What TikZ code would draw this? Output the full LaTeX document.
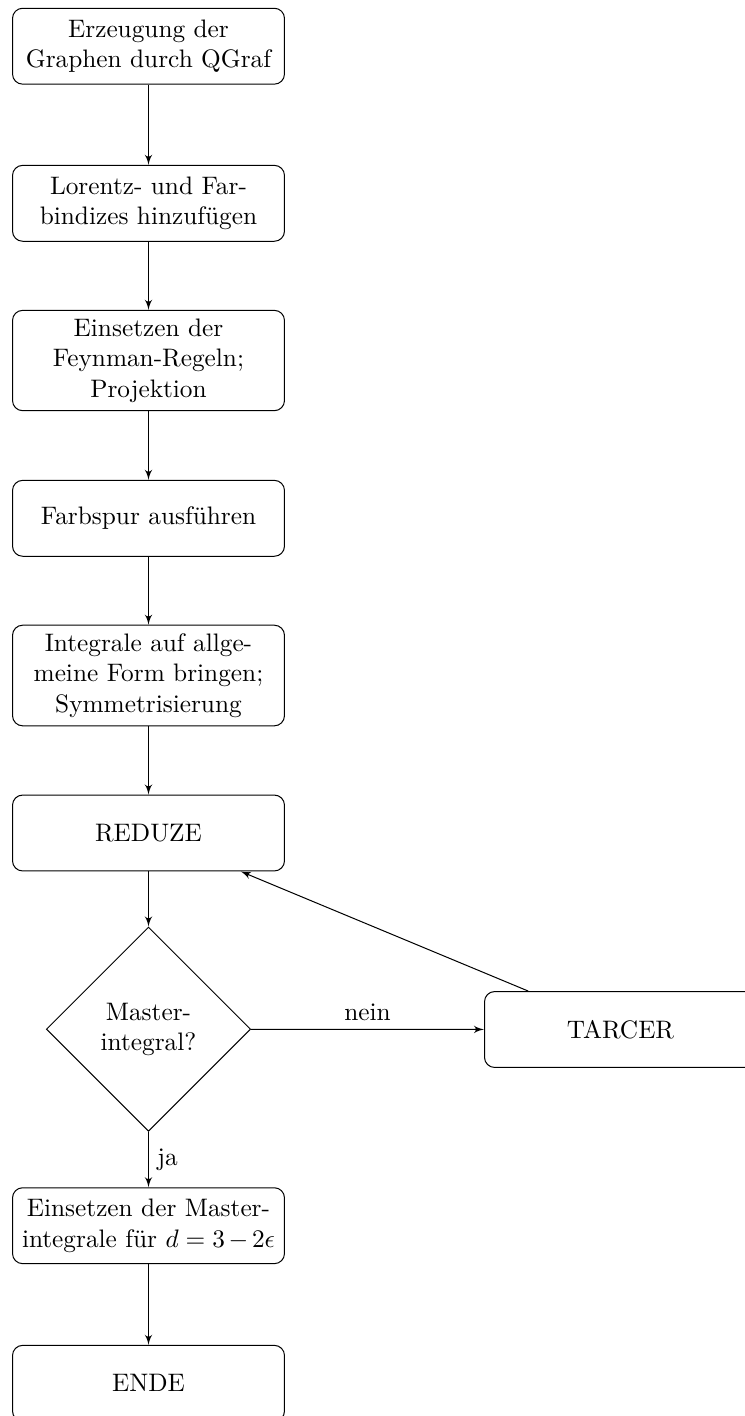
\documentclass[tikz,border=0pt]{standalone}
\usetikzlibrary{arrows,shapes.geometric}
\begin{document}
\begin{tikzpicture}[x=0.3953pt,y=-0.3953pt,
  block/.style={rectangle, draw, text width=100pt, align=center, rounded corners,
    minimum height=30pt, inner xsep=3.75pt, inner ysep=3.333pt},
  decision/.style={diamond, draw, align=center, inner sep=0pt, aspect=1,
    minimum width=80.8pt, minimum height=80.8pt},
  line/.style={draw, -latex'}]
\useasboundingbox (0,0) rectangle (745,1416);
\clip (0,0) rectangle (745,1416);
\node[block] (b1) at (148.5,46.2) {Erzeugung der\\Graphen durch QGraf};
\node[block] (b2) at (148.5,203.3) {Lorentz- und Far-\\bindizes hinzufügen};
\node[block] (b3) at (148.5,360.5) {Einsetzen der\\Feynman-Regeln;\\Projektion};
\node[block] (b4) at (148.5,518.3) {Farbspur ausführen};
\node[block] (b5) at (148.5,675.5) {Integrale auf allge-\\meine Form bringen;\\Symmetrisierung};
\node[block] (b6) at (148.5,833) {REDUZE};
\node[decision] (dec) at (148.5,1029.2) {Master-\\integral?};
\node[block] (tarcer) at (620.5,1029.5) {TARCER};
\node[block] (b7) at (148.5,1225.7) {Einsetzen der Master-\\integrale für $d=3-2\epsilon$};
\node[block] (b8) at (148.5,1383.3) {ENDE};
\path[line] (b1) -- (b2);
\path[line] (b2) -- (b3);
\path[line] (b3) -- (b4);
\path[line] (b4) -- (b5);
\path[line] (b5) -- (b6);
\path[line] (b6) -- (dec);
\path[line] (dec) -- node[above] (nein) {nein} (tarcer);
\path[line] (tarcer) -- (b6);
\path[line] (dec) -- node[right] (ja) {ja} (b7);
\path[line] (b7) -- (b8);
\end{tikzpicture}
\end{document}
